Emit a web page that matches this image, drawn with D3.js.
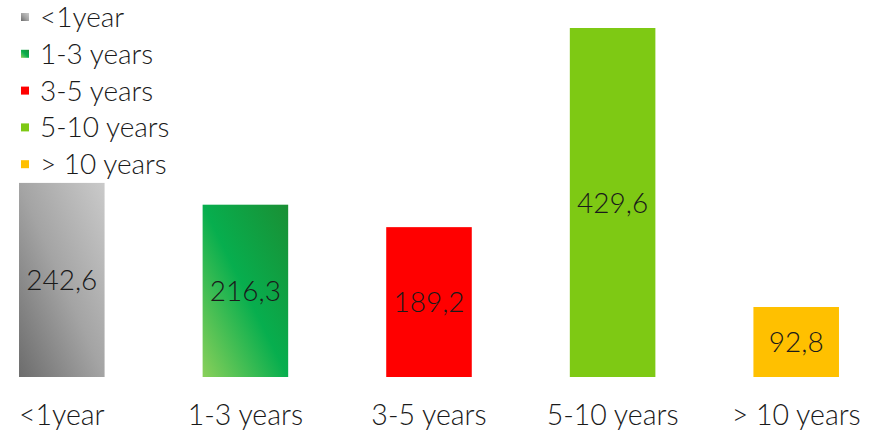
<!DOCTYPE html>
<html>
<head>
<meta charset="utf-8">
<script src="https://cdn.jsdelivr.net/npm/d3@7"></script>
<style>
  body { margin: 0; background: #fff; }
  svg text { font-family: Lato, "Open Sans", sans-serif; font-weight: 300; fill: #1a1a1a; }
</style>
</head>
<body>
<div id="chart"></div>
<script>
// DATA
var categories = ["<1year", "1-3 years", "3-5 years", "5-10 years", "> 10 years"];
var values = [242.6, 216.3, 189.2, 429.6, 92.8];
var valueLabels = ["242,6", "216,3", "189,2", "429,6", "92,8"];
var legendLabels = ["<1year", "1-3 years", "3-5 years", "5-10 years", "> 10 years"];

// colours: [light corner, mid, dark corner] — solid bars repeat one colour
var fills = [
  ["#6c6c6c", "#a4a4a4", "#cacaca"],
  ["#8ad05a", "#07ae4e", "#1a8f34"],
  ["#ff0000", "#ff0000", "#ff0000"],
  ["#7ec914", "#7ec914", "#7ec914"],
  ["#ffc000", "#ffc000", "#ffc000"]
];

var width = 884, height = 431;
var baseline = 377;

var svg = d3.select("#chart").append("svg")
    .attr("width", width)
    .attr("height", height);

var defs = svg.append("defs");
fills.forEach(function(c, i) {
  var g = defs.append("linearGradient")
      .attr("id", "grad" + i)
      .attr("x1", "0").attr("y1", "1")
      .attr("x2", "1").attr("y2", "0");
  g.append("stop").attr("offset", "0%").attr("stop-color", c[0]);
  g.append("stop").attr("offset", "50%").attr("stop-color", c[1]);
  g.append("stop").attr("offset", "100%").attr("stop-color", c[2]);
});

// SCALES
var x = d3.scaleBand()
    .domain(categories)
    .range([-30, 888])
    .paddingInner(0.534)
    .paddingOuter(0.267);

var y = d3.scaleLinear()
    .domain([8.3, 429.6])
    .range([baseline, 28]);

// BARS
var bars = svg.append("g").selectAll("g.bar")
    .data(categories)
  .enter().append("g").attr("class", "bar");

bars.append("rect")
    .attr("x", function(d) { return x(d); })
    .attr("y", function(d, i) { return y(values[i]); })
    .attr("width", x.bandwidth())
    .attr("height", function(d, i) { return baseline - y(values[i]); })
    .attr("fill", function(d, i) { return "url(#grad" + i + ")"; });

bars.append("text")
    .attr("x", function(d) { return x(d) + x.bandwidth() / 2; })
    .attr("y", function(d, i) { return (y(values[i]) + baseline) / 2; })
    .attr("dy", "0.36em")
    .attr("text-anchor", "middle")
    .style("font-size", "28px")
    .text(function(d, i) { return valueLabels[i]; });

// X AXIS LABELS
var xAxis = d3.axisBottom(x).tickSize(0).tickPadding(0);
var ax = svg.append("g")
    .attr("transform", "translate(0," + 405 + ")")
    .call(xAxis);
ax.select(".domain").remove();
ax.selectAll("text")
    .style("font-size", "28.5px")
    .attr("fill", "#1a1a1a")
    .style("font-family", "Lato, 'Open Sans', sans-serif");

// LEGEND
var legend = svg.append("g").attr("class", "legend");
var rows = legend.selectAll("g")
    .data(legendLabels)
  .enter().append("g")
    .attr("transform", function(d, i) { return "translate(0," + (17 + i * 36.8) + ")"; });

rows.append("rect")
    .attr("x", 21).attr("y", -4)
    .attr("width", 8).attr("height", 8)
    .attr("fill", function(d, i) { return "url(#grad" + i + ")"; });

rows.append("text")
    .attr("x", 40)
    .attr("dy", "0.36em")
    .style("font-size", "28px")
    .text(function(d) { return d; });
</script>
</body>
</html>
